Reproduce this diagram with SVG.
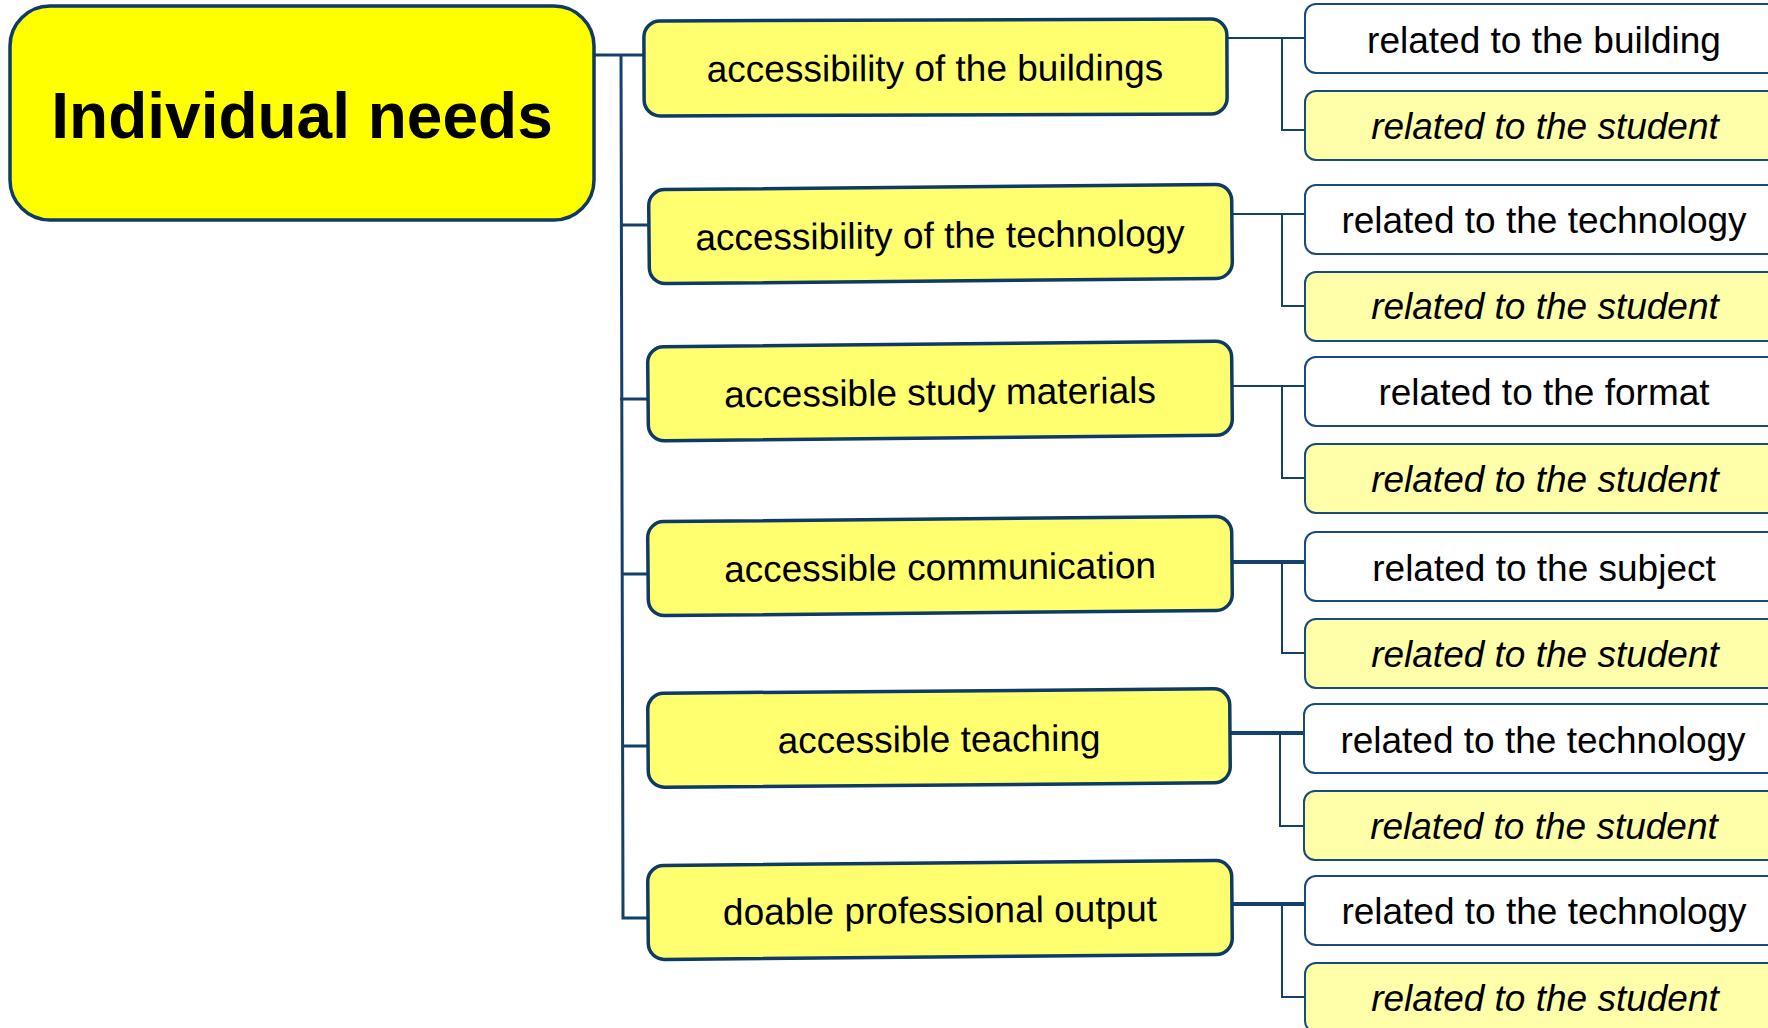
<svg xmlns="http://www.w3.org/2000/svg" width="1768" height="1028" viewBox="0 0 1768 1028">
<style>
.root{fill:#ffff00;stroke:#0e3a66;stroke-width:3.5}
.l1{fill:#ffff70;stroke:#0e3a66;stroke-width:3.5}
.w{fill:#ffffff;stroke:#1a4a7a;stroke-width:2}
.s{fill:#ffffaa;stroke:#1a4a7a;stroke-width:2}
.t{font-family:"Liberation Sans",Arial,sans-serif;font-size:37px;fill:#000;text-anchor:middle}
.it{font-style:italic}
.big{font-family:"Liberation Sans",Arial,sans-serif;font-size:64px;font-weight:bold;fill:#000;text-anchor:middle}
.c{fill:none;stroke:#14406e;stroke-width:2}
.ck{fill:none;stroke:#14406e;stroke-width:3}
.cw{fill:none;stroke:#14406e;stroke-width:4}
</style>
<rect width="1768" height="1028" fill="#ffffff"/>
<g id="connectors">
<path class="ck" d="M594 55H644M621 55L623 918H650M620 225H650M620 399H650M621 574H650M622 746H650"/>
<path class="c" d="M1228 38H1305M1282 38V130H1305"/>
<path class="c" d="M1232 214H1305M1282 214V306H1305"/>
<path class="c" d="M1232 386H1305M1282 386V478H1305"/>
<path class="cw" d="M1232 562H1304"/><path class="c" d="M1282 562V653H1305"/>
<path class="cw" d="M1230 733H1304"/><path class="c" d="M1280 733V826H1305"/>
<path class="cw" d="M1232 904H1304"/><path class="c" d="M1282 904V997H1305"/>
</g>
<g id="root"><rect class="root" x="10" y="6" width="584" height="214" rx="40"/><text class="big" x="302" y="138">Individual needs</text></g>
<g id="n1" transform="rotate(-0.2 935 67)"><rect class="l1" x="644" y="20" width="583" height="95" rx="16"/><text class="t" x="935" y="81">accessibility of the buildings</text></g>
<g id="n2" transform="rotate(-0.54 940 234)"><rect class="l1" x="649" y="187" width="583" height="94" rx="16"/><text class="t" x="940" y="248">accessibility of the technology</text></g>
<g id="n3" transform="rotate(-0.58 940 391)"><rect class="l1" x="648" y="344" width="584" height="94" rx="16"/><text class="t" x="940" y="405">accessible study materials</text></g>
<g id="n4" transform="rotate(-0.54 940 566)"><rect class="l1" x="648" y="519" width="584" height="94" rx="16"/><text class="t" x="940" y="580">accessible communication</text></g>
<g id="n5" transform="rotate(-0.45 939 738)"><rect class="l1" x="648" y="691" width="582" height="94" rx="16"/><text class="t" x="939" y="752">accessible teaching</text></g>
<g id="n6" transform="rotate(-0.5 940 910)"><rect class="l1" x="648" y="863" width="584" height="94" rx="16"/><text class="t" x="940" y="923">doable professional output</text></g>
<g id="n1a"><rect class="w" x="1305" y="4" width="520" height="69" rx="11"/><text class="t" x="1544" y="53">related to the building</text></g>
<g id="n1b"><rect class="s" x="1305" y="91" width="520" height="69" rx="11"/><text class="t it" x="1545" y="139">related to the student</text></g>
<g id="n2a"><rect class="w" x="1305" y="185" width="520" height="69" rx="11"/><text class="t" x="1544" y="233">related to the technology</text></g>
<g id="n2b"><rect class="s" x="1305" y="272" width="520" height="69" rx="11"/><text class="t it" x="1545" y="319">related to the student</text></g>
<g id="n3a"><rect class="w" x="1305" y="357" width="520" height="69" rx="11"/><text class="t" x="1544" y="405">related to the format</text></g>
<g id="n3b"><rect class="s" x="1305" y="444" width="520" height="69" rx="11"/><text class="t it" x="1545" y="492">related to the student</text></g>
<g id="n4a"><rect class="w" x="1305" y="532" width="520" height="69" rx="11"/><text class="t" x="1544" y="581">related to the subject</text></g>
<g id="n4b"><rect class="s" x="1305" y="619" width="520" height="69" rx="11"/><text class="t it" x="1545" y="667">related to the student</text></g>
<g id="n5a"><rect class="w" x="1304" y="704" width="520" height="69" rx="11"/><text class="t" x="1543" y="753">related to the technology</text></g>
<g id="n5b"><rect class="s" x="1304" y="791" width="520" height="69" rx="11"/><text class="t it" x="1544" y="839">related to the student</text></g>
<g id="n6a"><rect class="w" x="1305" y="876" width="520" height="69" rx="11"/><text class="t" x="1544" y="924">related to the technology</text></g>
<g id="n6b"><rect class="s" x="1305" y="963" width="520" height="69" rx="11"/><text class="t it" x="1545" y="1011">related to the student</text></g>
</svg>
